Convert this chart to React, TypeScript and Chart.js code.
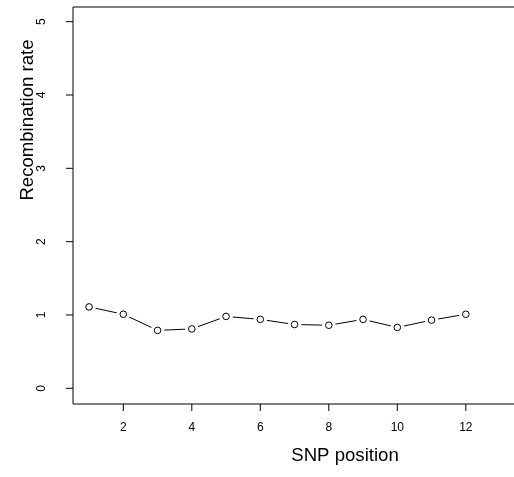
import React, { useEffect, useRef } from "react";
import { Chart, registerables } from "chart.js";

Chart.register(...registerables);

const snpPositions = [1, 2, 3, 4, 5, 6, 7, 8, 9, 10, 11, 12];
const recombRates = [1.11, 1.01, 0.79, 0.81, 0.98, 0.94, 0.87, 0.86, 0.94, 0.83, 0.93, 1.01];
const xTicks = [2, 4, 6, 8, 10, 12];
const yTicks = [0, 1, 2, 3, 4, 5];
const xTitle = "SNP position";
const yTitle = "Recombination rate";

const FONT = '"Liberation Sans", Arial, Helvetica, sans-serif';

const axesPlugin = {
  id: "rAxes",
  afterDraw(chart: any) {
    const { ctx, chartArea, scales } = chart;
    const x = scales.x;
    const y = scales.y;
    ctx.save();
    ctx.strokeStyle = "#000";
    ctx.fillStyle = "#000";
    ctx.lineWidth = 1;
    // box (right edge lies outside the canvas)
    ctx.beginPath();
    ctx.moveTo(chartArea.right + 2, chartArea.top);
    ctx.lineTo(chartArea.left, chartArea.top);
    ctx.lineTo(chartArea.left, chartArea.bottom);
    ctx.lineTo(chartArea.right + 2, chartArea.bottom);
    ctx.stroke();

    // x ticks
    ctx.font = `12px ${FONT}`;
    ctx.textAlign = "center";
    ctx.textBaseline = "middle";
    xTicks.forEach((v) => {
      const px = x.getPixelForValue(v);
      ctx.beginPath();
      ctx.moveTo(px, chartArea.bottom);
      ctx.lineTo(px, chartArea.bottom + 7);
      ctx.stroke();
      ctx.fillText(String(v), px, 428);
    });

    // y ticks
    yTicks.forEach((v) => {
      const py = y.getPixelForValue(v);
      ctx.beginPath();
      ctx.moveTo(chartArea.left, py);
      ctx.lineTo(chartArea.left - 7, py);
      ctx.stroke();
      ctx.save();
      ctx.translate(41.5, py);
      ctx.rotate(-Math.PI / 2);
      ctx.fillText(String(v), 0, 0);
      ctx.restore();
    });

    // titles
    ctx.font = `18.6px ${FONT}`;
    ctx.textBaseline = "alphabetic";
    ctx.fillText(xTitle, 345, 461);
    ctx.save();
    ctx.translate(33.3, 120);
    ctx.rotate(-Math.PI / 2);
    ctx.fillText(yTitle, 0, 0);
    ctx.restore();
    ctx.restore();
  },
};

export default function App() {
  const ref = useRef<HTMLCanvasElement>(null);
  useEffect(() => {
    if (!ref.current) return;
    const pts = snpPositions.map((p, i) => ({ x: p, y: recombRates[i] }));
    const chart = new Chart(ref.current, {
      type: "line",
      data: {
        datasets: [
          {
            data: pts,
            showLine: false,
            pointRadius: 3.3,
            pointBorderWidth: 1,
            pointBorderColor: "#000",
            pointBackgroundColor: "#fff",
            order: 1,
          },
          {
            data: pts,
            showLine: false,
            pointRadius: 3.3,
            pointBorderWidth: 7,
            pointBorderColor: "#fff",
            pointBackgroundColor: "#fff",
            order: 2,
          },
          {
            data: pts,
            borderColor: "#000",
            borderWidth: 1,
            pointRadius: 0,
            tension: 0,
            fill: false,
            order: 3,
          },
        ],
      },
      options: {
        responsive: false,
        animation: false,
        events: [],
        layout: { autoPadding: false, padding: { left: 73, top: 7, right: 0, bottom: 73 } },
        plugins: { legend: { display: false }, tooltip: { enabled: false } },
        scales: {
          x: { type: "linear", min: 0.531, max: 13.407, display: false },
          y: { type: "linear", min: -0.214, max: 5.2, display: false },
        },
      },
      plugins: [axesPlugin],
    });
    return () => chart.destroy();
  }, []);
  return (
    <div style={{ position: "absolute", left: 0, top: 0, width: 514, height: 477, background: "#fff" }}>
      <canvas ref={ref} width={514} height={477} style={{ display: "block" }} />
    </div>
  );
}
